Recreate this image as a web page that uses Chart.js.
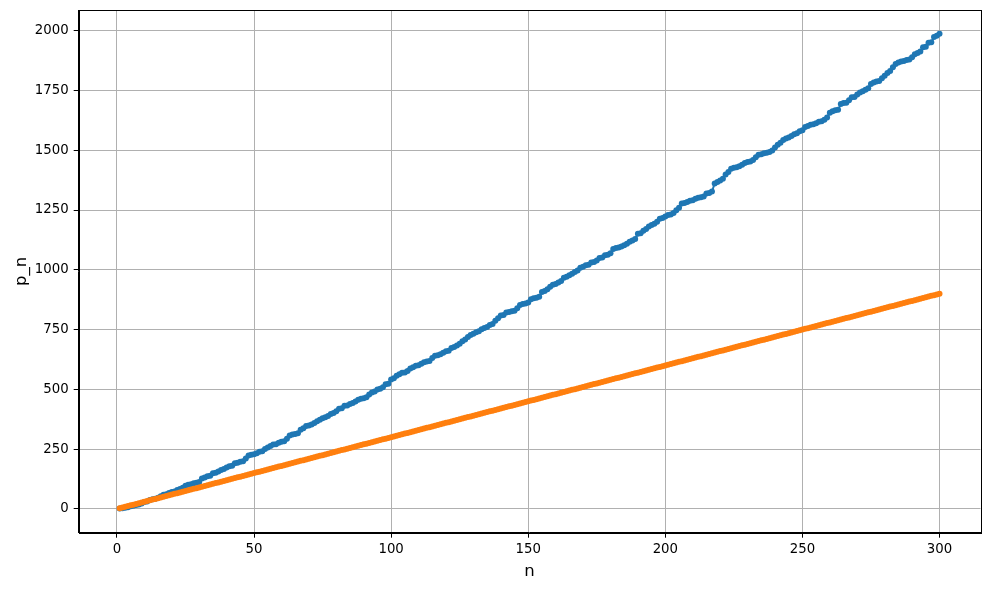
<!DOCTYPE html>
<html>
<head>
<meta charset="utf-8">
<script src="https://cdn.jsdelivr.net/npm/chart.js@4.4.1/dist/chart.umd.min.js"></script>
<style>
html,body{margin:0;padding:0;background:#fff;}
canvas{display:block;}
</style>
</head>
<body>
<canvas id="c" width="989" height="590"></canvas>
<script>
// index n
const nValues = [
1,2,3,4,5,6,7,8,9,10,
11,12,13,14,15,16,17,18,19,20,
21,22,23,24,25,26,27,28,29,30,
31,32,33,34,35,36,37,38,39,40,
41,42,43,44,45,46,47,48,49,50,
51,52,53,54,55,56,57,58,59,60,
61,62,63,64,65,66,67,68,69,70,
71,72,73,74,75,76,77,78,79,80,
81,82,83,84,85,86,87,88,89,90,
91,92,93,94,95,96,97,98,99,100,
101,102,103,104,105,106,107,108,109,110,
111,112,113,114,115,116,117,118,119,120,
121,122,123,124,125,126,127,128,129,130,
131,132,133,134,135,136,137,138,139,140,
141,142,143,144,145,146,147,148,149,150,
151,152,153,154,155,156,157,158,159,160,
161,162,163,164,165,166,167,168,169,170,
171,172,173,174,175,176,177,178,179,180,
181,182,183,184,185,186,187,188,189,190,
191,192,193,194,195,196,197,198,199,200,
201,202,203,204,205,206,207,208,209,210,
211,212,213,214,215,216,217,218,219,220,
221,222,223,224,225,226,227,228,229,230,
231,232,233,234,235,236,237,238,239,240,
241,242,243,244,245,246,247,248,249,250,
251,252,253,254,255,256,257,258,259,260,
261,262,263,264,265,266,267,268,269,270,
271,272,273,274,275,276,277,278,279,280,
281,282,283,284,285,286,287,288,289,290,
291,292,293,294,295,296,297,298,299,300
];

// p_n (blue)
const primeValues = [
2,3,5,7,11,13,17,19,23,29,
31,37,41,43,47,53,59,61,67,71,
73,79,83,89,97,101,103,107,109,113,
127,131,137,139,149,151,157,163,167,173,
179,181,191,193,197,199,211,223,227,229,
233,239,241,251,257,263,269,271,277,281,
283,293,307,311,313,317,331,337,347,349,
353,359,367,373,379,383,389,397,401,409,
419,421,431,433,439,443,449,457,461,463,
467,479,487,491,499,503,509,521,523,541,
547,557,563,569,571,577,587,593,599,601,
607,613,617,619,631,641,643,647,653,659,
661,673,677,683,691,701,709,719,727,733,
739,743,751,757,761,769,773,787,797,809,
811,821,823,827,829,839,853,857,859,863,
877,881,883,887,907,911,919,929,937,941,
947,953,967,971,977,983,991,997,1009,1013,
1019,1021,1031,1033,1039,1049,1051,1061,1063,1069,
1087,1091,1093,1097,1103,1109,1117,1123,1129,1151,
1153,1163,1171,1181,1187,1193,1201,1213,1217,1223,
1229,1231,1237,1249,1259,1277,1279,1283,1289,1291,
1297,1301,1303,1307,1319,1321,1327,1361,1367,1373,
1381,1399,1409,1423,1427,1429,1433,1439,1447,1451,
1453,1459,1471,1481,1483,1487,1489,1493,1499,1511,
1523,1531,1543,1549,1553,1559,1567,1571,1579,1583,
1597,1601,1607,1609,1613,1619,1621,1627,1637,1657,
1663,1667,1669,1693,1697,1699,1709,1721,1723,1733,
1741,1747,1753,1759,1777,1783,1787,1789,1801,1811,
1823,1831,1847,1861,1867,1871,1873,1877,1879,1889,
1901,1907,1913,1931,1933,1949,1951,1973,1979,1987
];

// linear reference (orange)
const linearValues = [
3,6,9,12,15,18,21,24,27,30,
33,36,39,42,45,48,51,54,57,60,
63,66,69,72,75,78,81,84,87,90,
93,96,99,102,105,108,111,114,117,120,
123,126,129,132,135,138,141,144,147,150,
153,156,159,162,165,168,171,174,177,180,
183,186,189,192,195,198,201,204,207,210,
213,216,219,222,225,228,231,234,237,240,
243,246,249,252,255,258,261,264,267,270,
273,276,279,282,285,288,291,294,297,300,
303,306,309,312,315,318,321,324,327,330,
333,336,339,342,345,348,351,354,357,360,
363,366,369,372,375,378,381,384,387,390,
393,396,399,402,405,408,411,414,417,420,
423,426,429,432,435,438,441,444,447,450,
453,456,459,462,465,468,471,474,477,480,
483,486,489,492,495,498,501,504,507,510,
513,516,519,522,525,528,531,534,537,540,
543,546,549,552,555,558,561,564,567,570,
573,576,579,582,585,588,591,594,597,600,
603,606,609,612,615,618,621,624,627,630,
633,636,639,642,645,648,651,654,657,660,
663,666,669,672,675,678,681,684,687,690,
693,696,699,702,705,708,711,714,717,720,
723,726,729,732,735,738,741,744,747,750,
753,756,759,762,765,768,771,774,777,780,
783,786,789,792,795,798,801,804,807,810,
813,816,819,822,825,828,831,834,837,840,
843,846,849,852,855,858,861,864,867,870,
873,876,879,882,885,888,891,894,897,900
];

const xTicks = [0, 50, 100, 150, 200, 250, 300];
const yTicks = [0, 250, 500, 750, 1000, 1250, 1500, 1750, 2000];
const xLabel = 'n';
const yLabel = 'p_n';

const FONT = "'DejaVu Sans', sans-serif";

const bluePts = nValues.map((n, i) => ({x: n, y: primeValues[i]}));
const orangePts = nValues.map((n, i) => ({x: n, y: linearValues[i]}));

const frame = {
  id: 'frame',
  beforeDraw(chart) {
    const ctx = chart.ctx;
    ctx.save();
    ctx.fillStyle = '#fff';
    ctx.fillRect(0, 0, chart.width, chart.height);
    ctx.restore();
  },
  afterDraw(chart) {
    const a = chart.chartArea, ctx = chart.ctx;
    ctx.save();
    ctx.strokeStyle = '#000';
    ctx.lineWidth = 1;
    ctx.strokeRect(Math.round(a.left) + 0.5, Math.round(a.top) + 0.5,
                   Math.round(a.right - a.left), Math.round(a.bottom - a.top));
    ctx.restore();
  }
};

new Chart(document.getElementById('c'), {
  type: 'line',
  data: {
    datasets: [
      {
        data: bluePts,
        borderColor: '#1f77b4',
        backgroundColor: '#1f77b4',
        borderWidth: 2,
        pointRadius: 3,
        pointBorderWidth: 0,
        pointHoverRadius: 3,
        tension: 0,
        fill: false,
        order: 1
      },
      {
        data: orangePts,
        borderColor: '#ff7f0e',
        backgroundColor: '#ff7f0e',
        borderWidth: 2,
        pointRadius: 3,
        pointBorderWidth: 0,
        pointHoverRadius: 3,
        tension: 0,
        fill: false,
        order: 0
      }
    ]
  },
  options: {
    responsive: false,
    devicePixelRatio: 1,
    animation: false,
    layout: {padding: {top: 10, right: 8.5, bottom: 0, left: 0}},
    plugins: {legend: {display: false}, tooltip: {enabled: false}},
    scales: {
      x: {
        type: 'linear',
        min: -13.95,
        max: 314.95,
        afterBuildTicks(s) { s.ticks = xTicks.map(v => ({value: v})); },
        afterFit(s) { s.height = 57.3; s.paddingLeft = 0; s.paddingRight = 0; },
        ticks: {
          color: '#000',
          font: {family: FONT, size: 13.3},
          padding: 4,
          maxRotation: 0,
          autoSkip: false,
          callback: (v) => String(v)
        },
        grid: {color: '#b0b0b0', lineWidth: 1, tickColor: '#000', tickLength: 5, drawTicks: true},
        border: {display: true, color: '#000'},
        title: {display: true, text: xLabel, color: '#000', font: {family: FONT, size: 16.5}, padding: {top: 4, bottom: 8}}
      },
      y: {
        type: 'linear',
        min: -99.35,
        max: 2086.35,
        afterBuildTicks(s) { s.ticks = yTicks.map(v => ({value: v})); },
        afterFit(s) { s.width = 78.7; s.paddingTop = 0; s.paddingBottom = 0; },
        ticks: {
          color: '#000',
          font: {family: FONT, size: 13.3},
          padding: 5,
          autoSkip: false,
          callback: (v) => String(v)
        },
        grid: {color: '#b0b0b0', lineWidth: 1, tickColor: '#000', tickLength: 5, drawTicks: true},
        border: {display: true, color: '#000'},
        title: {display: true, text: yLabel, color: '#000', font: {family: FONT, size: 16.5}, padding: {top: 12, bottom: 4}}
      }
    }
  },
  plugins: [frame]
});
</script>
</body>
</html>
